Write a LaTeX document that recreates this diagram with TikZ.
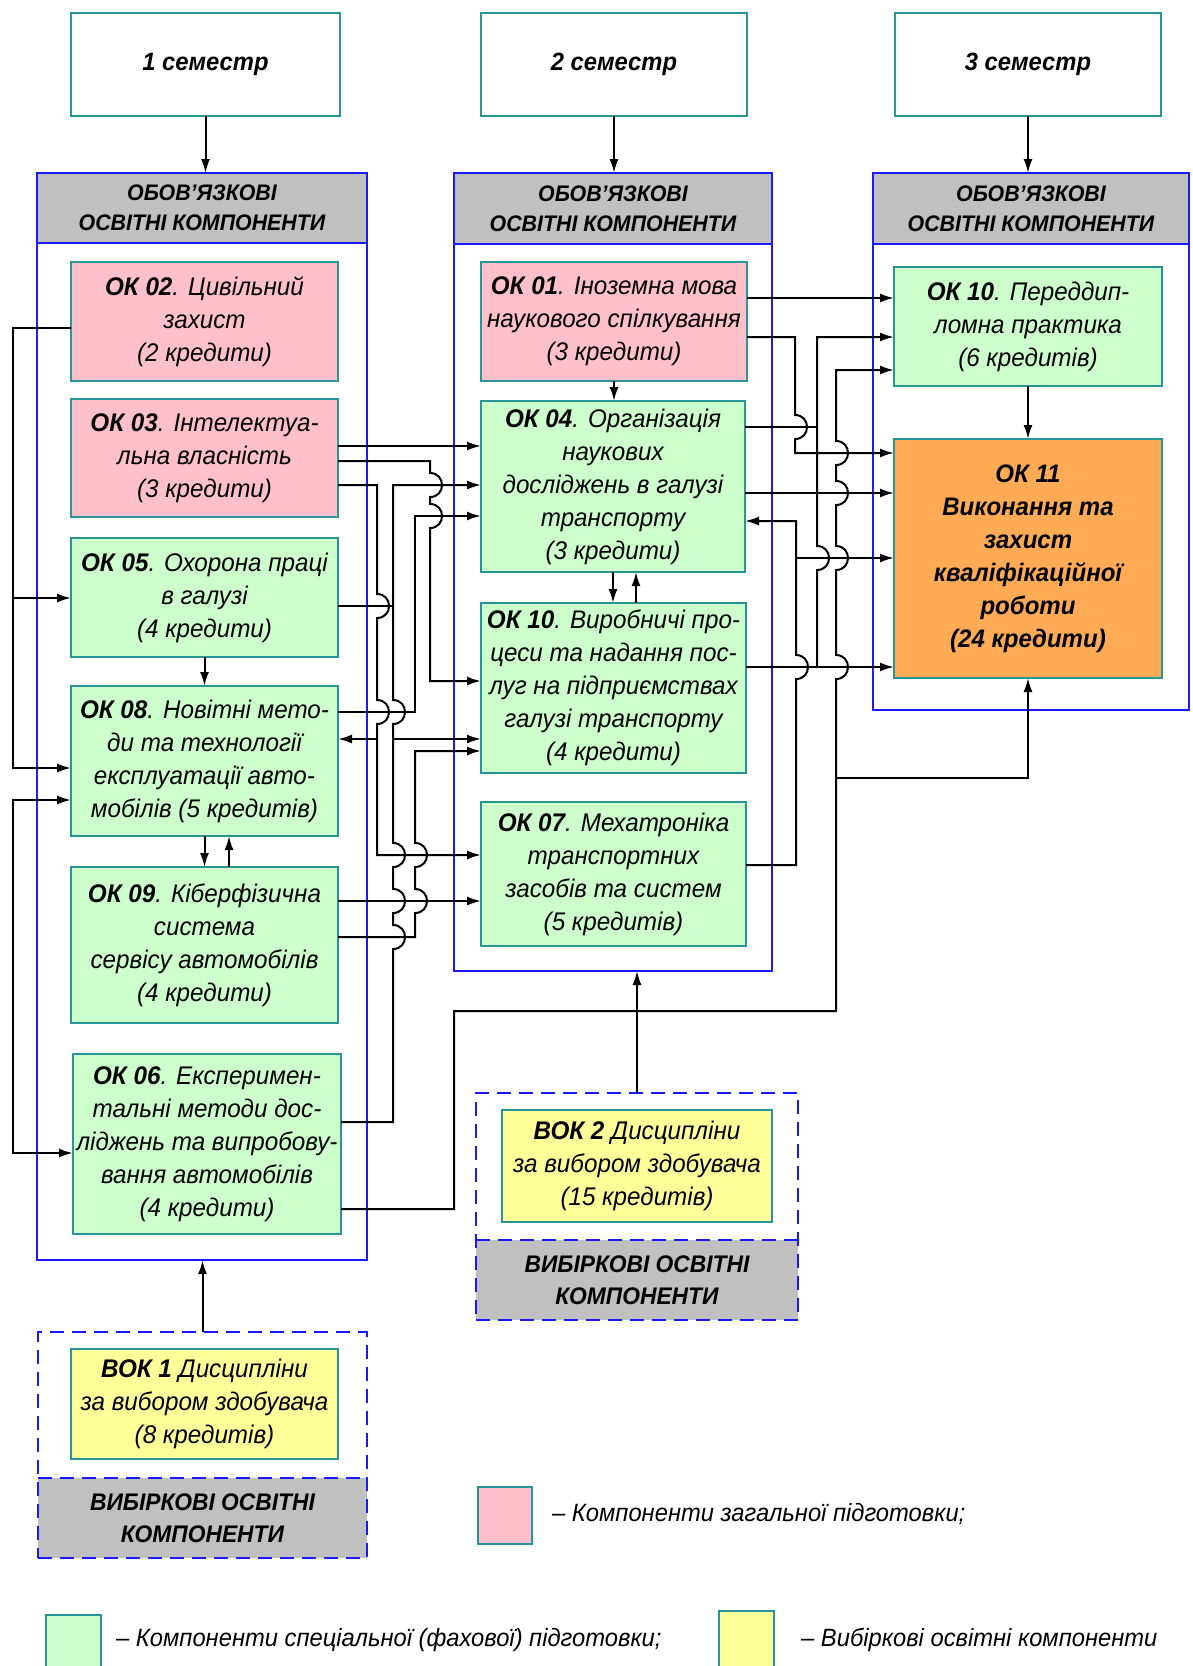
\documentclass[tikz,border=0pt]{standalone}
\usepackage{fontspec}
\setmainfont{Liberation Sans}[FakeStretch=0.95]
\usetikzlibrary{fit,arrows.meta}
\definecolor{tealb}{RGB}{38,150,150}
\definecolor{blueb}{RGB}{25,25,255}
\definecolor{pinkf}{RGB}{255,192,203}
\definecolor{greenf}{RGB}{204,255,204}
\definecolor{yellowf}{RGB}{255,255,153}
\definecolor{orangef}{RGB}{255,170,85}
\definecolor{grayf}{RGB}{192,192,192}
\newcommand{\vjd}[2]{-- (#1,#2-12) .. controls +(16,0) and +(16,0) .. (#1,#2+12)}
\newcommand{\vju}[2]{-- (#1,#2+12) .. controls +(16,0) and +(16,0) .. (#1,#2-12)}
\begin{document}
\begin{tikzpicture}[x=1pt,y=-1pt,
  conn/.style={line width=2pt,draw=black},
  arr/.style={conn,-{Latex[length=14pt,width=9pt]}},
  arrb/.style={conn,{Latex[length=14pt,width=9pt]}-{Latex[length=14pt,width=9pt]}},
  bx/.style={draw=tealb,line width=2.5pt,inner sep=0pt,outer sep=0pt},
  pk/.style={bx,fill=pinkf}, gr/.style={bx,fill=greenf}, yl/.style={bx,fill=yellowf}, og/.style={bx,fill=orangef},
  tx/.style={inner sep=0pt,align=center,font=\itshape\fontsize{25.5}{33}\selectfont},
  tb/.style={inner sep=0pt,align=center,font=\bfseries\itshape\fontsize{25.3}{33}\selectfont},
  sembox/.style={draw=tealb,line width=2.5pt,fill=white,inner sep=0pt,outer sep=0pt},
  semt/.style={inner sep=0pt,font=\bfseries\itshape\fontsize{25}{30}\selectfont},
  cont/.style={draw=blueb,line width=2.5pt,inner sep=0pt,outer sep=0pt},
  hdr/.style={cont,fill=grayf},
  hdrt/.style={inner sep=0pt,align=center,font=\bfseries\itshape\fontsize{22.5}{30}\selectfont},
  dcont/.style={draw=blueb,line width=2.5pt,dash pattern=on 14pt off 8pt,inner sep=0pt,outer sep=0pt},
  glab/.style={fill=grayf,inner sep=0pt,outer sep=0pt},
  glabt/.style={inner sep=0pt,align=center,font=\bfseries\itshape\fontsize{24}{32}\selectfont},
  leg/.style={anchor=west,inner sep=0pt,font=\itshape\fontsize{25}{30}\selectfont}]

\useasboundingbox (0,0) rectangle (1192,1666);
\clip (0,0) rectangle (1192,1666);
\fill[white] (0,0) rectangle (1192,1666);

% semesters
\node[sembox,fit={(71,13) (340,116)}] (sem1) {};
\node[semt] (sem1t) at (sem1.center) {1 семестр};
\node[sembox,fit={(481,13) (747,116)}] (sem2) {};
\node[semt] (sem2t) at (sem2.center) {2 семестр};
\node[sembox,fit={(895,13) (1161,116)}] (sem3) {};
\node[semt] (sem3t) at (sem3.center) {3 семестр};

% containers
\node[cont,fit={(37,173) (367,1260)}] (col1) {};
\node[hdr,fit={(37,173) (367,243)}] (h1) {};
\node[hdrt] (h1t) at (h1.center) {ОБОВ’ЯЗКОВІ\\ОСВІТНІ КОМПОНЕНТИ};
\node[cont,fit={(454,173) (772,971)}] (col2) {};
\node[hdr,fit={(454,173) (772,244)}] (h2) {};
\node[hdrt] (h2t) at (h2.center) {ОБОВ’ЯЗКОВІ\\ОСВІТНІ КОМПОНЕНТИ};
\node[cont,fit={(873,173) (1189,710)}] (col3) {};
\node[hdr,fit={(873,173) (1189,244)}] (h3) {};
\node[hdrt] (h3t) at (h3.center) {ОБОВ’ЯЗКОВІ\\ОСВІТНІ КОМПОНЕНТИ};

% column 1
\node[pk,fit={(71,262) (338,381)}] (ok02) {};
\node[tx] (ok02t) at (ok02.center) {\textbf{ОК 02}. Цивільний\\захист\\(2 кредити)};
\node[pk,fit={(71,399) (338,517)}] (ok03) {};
\node[tx] (ok03t) at (ok03.center) {\textbf{ОК 03}. Інтелектуа-\\льна власність\\(3 кредити)};
\node[gr,fit={(71,538) (338,657)}] (ok05) {};
\node[tx] (ok05t) at (ok05.center) {\textbf{ОК 05}. Охорона праці\\в галузі\\(4 кредити)};
\node[gr,fit={(71,686) (338,836)}] (ok08) {};
\node[tx] (ok08t) at (ok08.center) {\textbf{ОК 08}. Новітні мето-\\ди та технології\\експлуатації авто-\\мобілів (5 кредитів)};
\node[gr,fit={(71,867) (338,1023)}] (ok09) {};
\node[tx] (ok09t) at (ok09.center) {\textbf{ОК 09}. Кіберфізична\\система\\сервісу автомобілів\\(4 кредити)};
\node[gr,fit={(73,1054) (341,1234)}] (ok06) {};
\node[tx] (ok06t) at (ok06.center) {\textbf{ОК 06}. Експеримен-\\тальні методи дос-\\ліджень та випробову-\\вання автомобілів\\(4 кредити)};

% column 2
\node[pk,fit={(481,262) (747,381)}] (ok01) {};
\node[tx] (ok01t) at (ok01.center) {\textbf{ОК 01}. Іноземна мова\\наукового спілкування\\(3 кредити)};
\node[gr,fit={(481,401) (745,572)}] (ok04) {};
\node[tx] (ok04t) at (ok04.center) {\textbf{ОК 04}. Організація\\наукових\\досліджень в галузі\\транспорту\\(3 кредити)};
\node[gr,fit={(481,603) (746,773)}] (okv) {};
\node[tx] (okvt) at (okv.center) {\textbf{ОК 10}. Виробничі про-\\цеси та надання пос-\\луг на підприємствах\\галузі транспорту\\(4 кредити)};
\node[gr,fit={(481,802) (746,946)}] (ok07) {};
\node[tx] (ok07t) at (ok07.center) {\textbf{ОК 07}. Мехатроніка\\транспортних\\засобів та систем\\(5 кредитів)};

% column 3
\node[gr,fit={(894,267) (1162,386)}] (okp) {};
\node[tx] (okpt) at (okp.center) {\textbf{ОК 10}. Переддип-\\ломна практика\\(6 кредитів)};
\node[og,fit={(894,439) (1162,678)}] (ok11) {};
\node[tb] (ok11t) at (ok11.center) {ОК 11\\Виконання та\\захист\\кваліфікаційної\\роботи\\(24 кредити)};

% elective groups
\node[glab,fit={(476,1240) (798,1320)}] (g2) {};
\node[glabt] (g2t) at (g2.center) {ВИБІРКОВІ ОСВІТНІ\\КОМПОНЕНТИ};
\node[dcont,fit={(476,1093) (798,1320)}] (bok2c) {};
\draw[dcont] (g2.north west) -- (g2.north east);
\node[yl,fit={(502,1110) (772,1222)}] (bok2) {};
\node[tx] (bok2t) at (bok2.center) {\textbf{ВОК 2} Дисципліни\\за вибором здобувача\\(15 кредитів)};

\node[glab,fit={(38,1478) (367,1558)}] (g1) {};
\node[glabt] (g1t) at (g1.center) {ВИБІРКОВІ ОСВІТНІ\\КОМПОНЕНТИ};
\node[dcont,fit={(38,1332) (367,1558)}] (bok1c) {};
\draw[dcont] (g1.north west) -- (g1.north east);
\node[yl,fit={(71,1349) (338,1459)}] (bok1) {};
\node[tx] (bok1t) at (bok1.center) {\textbf{ВОК 1} Дисципліни\\за вибором здобувача\\(8 кредитів)};

% legend
\node[pk,fit={(478,1487) (532,1544)}] (lg1) {};
\node[leg] (lt1) at (552,1514) {– Компоненти загальної підготовки;};
\node[gr,fit={(46,1615) (101,1690)}] (lg2) {};
\node[leg] (lt2) at (116,1640) {– Компоненти спеціальної (фахової) підготовки;};
\node[yl,fit={(719,1611) (774,1690)}] (lg3) {};
\node[leg] (lt3) at (801,1640) {– Вибіркові освітні компоненти};

% vertical arrows
\draw[arr] (sem1.south) -- (sem1.south |- col1.north);
\draw[arr] (sem2.south) -- (sem2.south |- col2.north);
\draw[arr] (sem3.south) -- (sem3.south |- col3.north);
\draw[arr] (ok05.south) -- (ok05.south |- ok08.north);
\draw[arr] (ok08.south) -- (ok08.south |- ok09.north);
\draw[arr] (ok09.north -| 229,0) -- (ok08.south -| 229,0);
\draw[arr] (ok01.south) -- (ok01.south |- ok04.north);
\draw[arr] (ok04.south) -- (ok04.south |- okv.north);
\draw[arr] (okv.north -| 636,0) -- (ok04.south -| 636,0);
\draw[arr] (okp.south) -- (okp.south |- ok11.north);
\draw[arr] (bok1c.north) -- (bok1c.north |- col1.south);
\draw[arr] (bok2c.north) -- (bok2c.north |- col2.south);

% left bus
\draw[arr] (ok02.west |- 0,328) -- (13,328) -- (13,768) -- (ok08.west |- 0,768);
\draw[arr] (13,598) -- (ok05.west |- 0,598);
\draw[arrb] (ok08.west |- 0,800) -- (13,800) -- (13,1153) -- (ok06.west |- 0,1153);

% middle bus
\draw[arr] (ok03.east |- 0,446) -- (ok04.west |- 0,446);
\draw[arr] (ok03.east |- 0,461) -- (430,461) \vjd{430}{485} \vjd{430}{516} -- (430,681) -- (okv.west |- 0,681);
\draw[arr] (ok03.east |- 0,485) -- (377,485) \vjd{377}{606} \vjd{377}{712} -- (377,855) -- (ok07.west |- 0,855);
\draw[arr] (377,739) -- (ok08.east |- 0,739);
\draw[arr] (ok06.east |- 0,1122) -- (393,1122) \vju{393}{937} \vju{393}{901} \vju{393}{855} \vju{393}{712} -- (393,485) -- (ok04.west |- 0,485);
\draw[conn] (ok05.east |- 0,606) -- (393,606);
\draw[arr] (393,739) -- (okv.west |- 0,739);
\draw[arr] (ok09.east |- 0,937) -- (415,937) \vju{415}{901} \vju{415}{855} -- (415,751) -- (okv.west |- 0,751);
\draw[arr] (ok08.east |- 0,712) -- (415,712) -- (415,516) -- (ok04.west |- 0,516);
\draw[arr] (ok09.east |- 0,901) -- (ok07.west |- 0,901);

% right bus
\draw[arr] (ok01.east |- 0,298) -- (okp.west |- 0,298);
\draw[arr] (ok01.east |- 0,337) -- (795,337) \vjd{795}{427} -- (795,453) -- (ok11.west |- 0,453);
\draw[conn] (ok04.east |- 0,427) -- (817,427);
\draw[arr] (okv.east |- 0,667) -- (ok11.west |- 0,667);
\draw[arr] (817,667) \vju{817}{558} -- (817,337) -- (okp.west |- 0,337);
\draw[arr] (ok04.east |- 0,493) -- (ok11.west |- 0,493);
\draw[arr] (ok07.east |- 0,865) -- (796,865) \vju{796}{667} -- (796,521) -- (ok04.east |- 0,521);
\draw[arr] (796,558) -- (ok11.west |- 0,558);
\draw[arr] (ok06.east |- 0,1209) -- (454,1209) -- (454,1011) -- (836,1011) -- (836,778) \vju{836}{667} \vju{836}{558} \vju{836}{493} \vju{836}{453} -- (836,370) -- (okp.west |- 0,370);
\draw[arr] (836,778) -- (1028,778) -- (ok11.south);
\end{tikzpicture}
\end{document}
